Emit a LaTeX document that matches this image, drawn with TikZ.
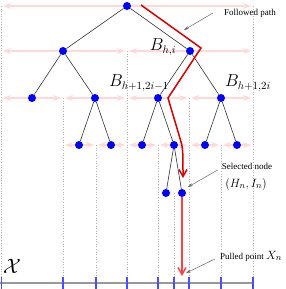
\documentclass[tikz,border=0pt]{standalone}
\usepackage{fontspec}
\setmainfont{Liberation Serif}
\usetikzlibrary{arrows.meta}

\begin{document}
\begin{tikzpicture}[x=1pt,y=-1pt,
  leaf/.style={circle, fill=blue, inner sep=0pt, minimum size=8pt},
  branch/.style={black!80, line width=0.6pt},
  cell/.style={red!15, line width=1.4pt,
    {Stealth[length=8pt,width=6pt,inset=3pt]}-{Stealth[length=8pt,width=6pt,inset=3pt]}},
  bound/.style={gray!60, dotted, line width=0.6pt},
  axtick/.style={blue!70, line width=1.4pt},
  route/.style={red!85!black, line width=1.5pt},
  note/.style={gray!80!black, line width=0.5pt, -{Stealth[length=5pt,width=3pt]}},
  notetext/.style={font=\fontsize{9}{10}\selectfont, inner sep=1pt},
  boxlabel/.style={font=\fontsize{16}{18}\selectfont, inner sep=0pt}]
\useasboundingbox (0,0) rectangle (286,289);

% cell boundaries
\foreach \x/\y in {1/6,253/6,127/51,63/98,189/98,96/145,158/145,221/145,174/193}
  \draw[bound] (\x,\y) -- (\x,277);

% cells of each level
\foreach \a/\b/\y in {3/251/6, 3/125/51, 129/251/51, 3/61/98, 65/125/98,
    129/187/98, 191/251/98, 65/94/145, 98/125/145, 129/156/145, 160/187/145,
    191/219/145, 223/251/145, 160/172/193, 176/187/193}
  \draw[cell] (\a,\y) -- (\b,\y);

% the space X
\draw[gray!80, line width=1.5pt] (0,283) -- (253,283);
\foreach \x in {1.5,63,96,127,158,174,189,221,253}
  \draw[axtick] (\x,277) -- (\x,289);

% tree
\node[leaf] (r) at (127,6) {};
\node[leaf] (a1) at (63,51) {};
\node[leaf] (a2) at (190,51) {};
\node[leaf] (b1) at (32,98) {};
\node[leaf] (b2) at (95,98) {};
\node[leaf] (b3) at (158,98) {};
\node[leaf] (b4) at (221,98) {};
\node[leaf] (c1) at (79,145) {};
\node[leaf] (c2) at (111,145) {};
\node[leaf] (c3) at (142,145) {};
\node[leaf] (c4) at (174,145) {};
\node[leaf] (c5) at (205,145) {};
\node[leaf] (c6) at (237,145) {};
\node[leaf] (d1) at (166,193) {};
\node[leaf] (d2) at (182,193) {};

\draw[branch] (a1) -- (r) -- (a2);
\draw[branch] (b1) -- (a1) -- (b2);
\draw[branch] (b3) -- (a2) -- (b4);
\draw[branch] (c1) -- (b2) -- (c2);
\draw[branch] (c3) -- (b3) -- (c4);
\draw[branch] (c5) -- (b4) -- (c6);
\draw[branch] (d1) -- (c4) -- (d2);

% followed path
\coordinate (p0) at (141,5);
\coordinate (p1) at (201,48);
\coordinate (p2) at (168,98);
\coordinate (p3) at (179,135);
\coordinate (p4) at (183,178);
\draw[route, -{Straight Barb[length=7pt,width=8pt]}]
  (p0) -- (p1) -- (p2) -- (p3) .. controls (183,148) .. (p4);
\coordinate (xn) at (182,276);
\draw[route, red!75, -{Straight Barb[length=7pt,width=8pt]}] (d2) -- (xn);

% labels
\node[boxlabel] (bhi) at (163,47) {$B_{h,i}$};
\node[boxlabel] (bleft) at (139,83) {$B_{h+1,2i-1}$};
\node[boxlabel] (bright) at (248,83) {$B_{h+1,2i}$};
\node[font=\fontsize{22}{24}\selectfont, inner sep=0pt] (space) at (12,266) {$\mathcal{X}$};

\node[notetext] (follow) at (250,13) {Followed path};
\coordinate (fp) at (184,30);
\draw[note] ([xshift=-10pt]follow.west) -- (fp);

\node[notetext] (sel) at (247,166) {Selected node};
\node[font=\fontsize{13}{15}\selectfont, inner sep=0pt] (hn) at (246,184) {$(H_n,I_n)$};
\coordinate (sn) at (188,187);
\draw[note] ([xshift=-3pt,yshift=-4pt]sel.west) -- (sn);

\node[notetext] (pull) at (251,256) {Pulled point {\fontsize{13}{15}\selectfont$X_n$}};
\coordinate (pp) at (186,273);
\draw[note] ([xshift=-4pt,yshift=-3pt]pull.west) -- (pp);
\end{tikzpicture}
\end{document}
